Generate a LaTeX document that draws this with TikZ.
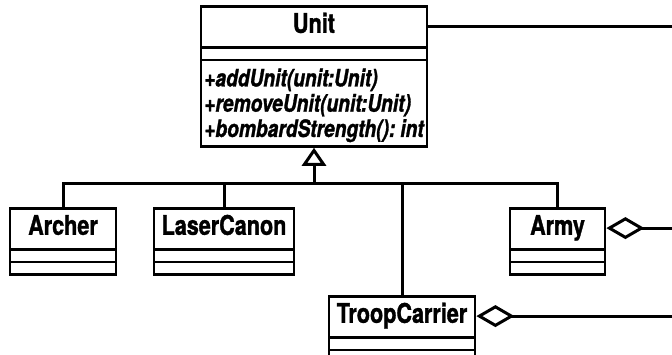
\documentclass[tikz,border=0pt]{standalone}
\usepackage{fontspec}
\setmainfont{TeX Gyre Heros}[FakeStretch=0.8, BoldFeatures={FakeBold=1.2}, BoldItalicFeatures={FakeBold=1.2}]
\usepackage{tikz}
\usetikzlibrary{shapes.multipart}
\usetikzlibrary{arrows.meta}
\usetikzlibrary{calc}

\newcommand{\namestrut}{\rule[-13pt]{0pt}{38pt}}
\newcommand{\emptyslot}{\rule[-5pt]{0pt}{10pt}}

\begin{document}
\begin{tikzpicture}[
  x=1pt, y=-1pt,
  class/.style={rectangle split, rectangle split parts=3, draw, line width=2.8pt, inner xsep=0pt, inner ysep=0pt, align=center, anchor=north, font=\fontsize{27}{30}\selectfont\bfseries},
  link/.style={line width=3pt},
  gen/.style={link, -{Triangle[open, length=18pt, width=24pt]}},
  aggr/.style={link, -{Diamond[open, length=38pt, width=22pt]}}
]
\clip (0,0) rectangle (672,354);

\node[class, text width=226pt] (unit) at (314,5) {\namestrut Unit\nodepart{two}\emptyslot\nodepart{three}{\fontsize{24}{25}\selectfont\bfseries\itshape
  \begin{tabular}{@{}l@{}}\rule{0pt}{25pt}+addUnit(unit:Unit)\\+removeUnit(unit:Unit)\\+bombardStrength():\hspace{5pt}int\rule[-8pt]{0pt}{8pt}\end{tabular}}};

\node[class, text width=106pt] (archer) at (63,207) {\namestrut Archer\nodepart{two}\emptyslot\nodepart{three}\emptyslot};
\node[class, text width=140pt] (laser) at (224,207) {\namestrut LaserCanon\nodepart{two}\emptyslot\nodepart{three}\emptyslot};
\node[class, text width=95pt] (army) at (557.5,207) {\namestrut Army\nodepart{two}\emptyslot\nodepart{three}\emptyslot};
\node[class, text width=146pt] (troop) at (402,295) {\namestrut TroopCarrier\nodepart{two}\emptyslot\nodepart{three}\rule[-5pt]{0pt}{25pt}};

% generalisation
\coordinate (bus) at (unit.south |- 0,183);
\draw[link] (archer.north) |- (bus) -| (army.north);
\draw[link] (laser.north) |- (bus);
\draw[link] (troop.north) |- (bus);
\draw[gen] (bus) -- (unit.south);

% links leaving the picture
\coordinate (edge) at (680,0);
\coordinate (unitport) at ($(unit.north east)!.5!(unit.text split east)$);
\coordinate (armyport) at ($(army.north east)!.5!(army.text split east)$);
\coordinate (troopport) at ($(troop.north east)!.5!(troop.text split east)$);
\draw[link] (unitport) -- (unitport -| edge);
\draw[aggr] (armyport -| edge) -- (armyport);
\draw[aggr] (troopport -| edge) -- (troopport);

\end{tikzpicture}
\end{document}
